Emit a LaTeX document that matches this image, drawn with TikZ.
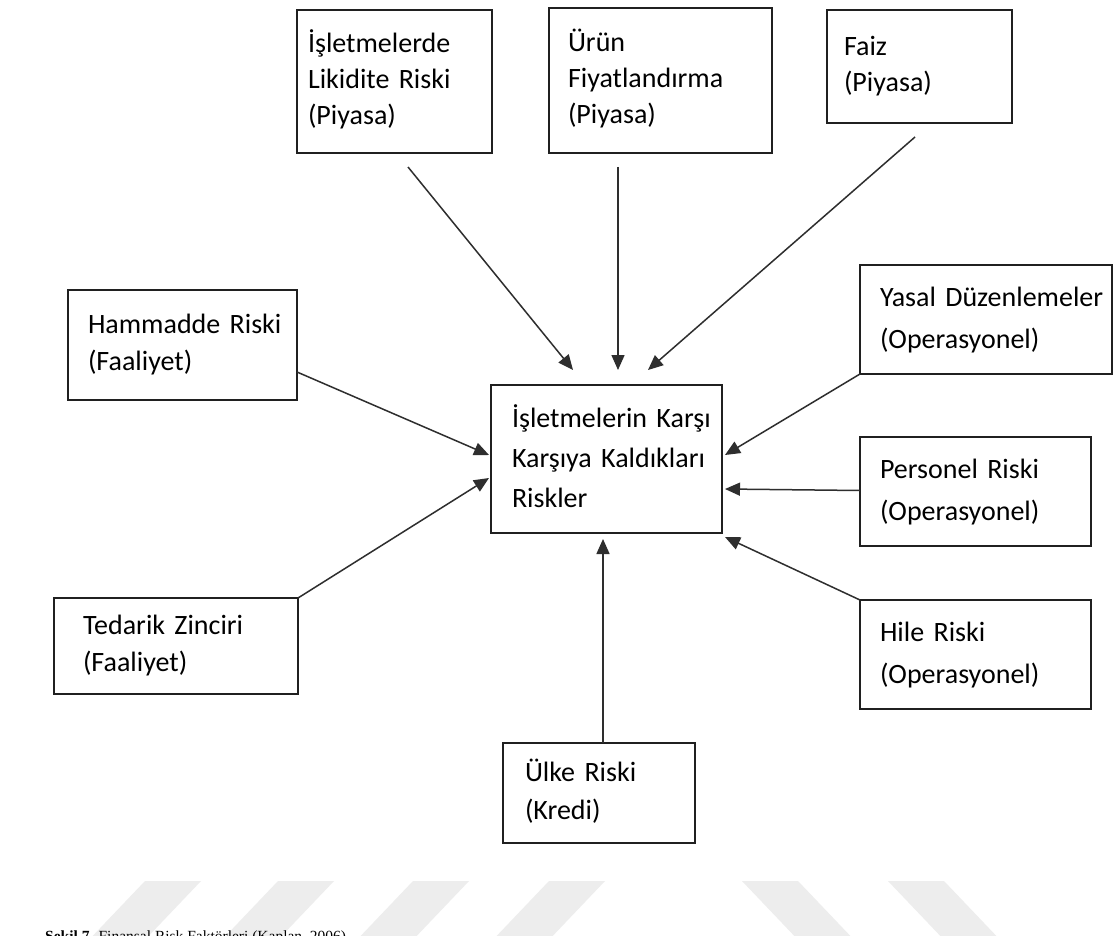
\documentclass[tikz,border=0pt]{standalone}
\usepackage{fontspec}
\setmainfont{Liberation Serif}
\newfontfamily\calibri[WordSpace=0.65]{Carlito}
\usetikzlibrary{arrows.meta,calc}

\definecolor{boxline}{HTML}{202020}
\definecolor{arrowline}{HTML}{2E2E2E}
\definecolor{stripe}{HTML}{EDEDED}

% left-aligned lines with a fixed left indent
\newcommand{\padlines}[2]{\begin{tabular}{@{\hspace{#1pt}}l@{}}#2\end{tabular}}

\tikzset{
  riskbox/.style={draw=boxline, line width=1.7pt, anchor=north west, align=left,
    inner sep=0pt, outer sep=0pt, text=black},
  lsk/.style={font=\calibri\fontsize{28}{#1}\selectfont},
  lsk/.default=38,
  feed/.style={draw=arrowline, line width=1.5pt,
    -{Triangle[length=15pt,width=13pt]}},
  band/.style={fill=stripe, draw=none}
}

\begin{document}
\begin{tikzpicture}[x=1pt,y=-1pt]
  \clip (0,0) rectangle (1113,936);
  \fill[white] (0,0) rectangle (1113,936);

  % light diagonal bands along the lower edge
  \foreach \xt in {145,278,413,549}
    \fill[band] (\xt,881) -- (\xt+56,881) -- (\xt+56-60,944) -- (\xt-60,944) -- cycle;
  \foreach \xt in {742,888}
    \fill[band] (\xt,881) -- (\xt+56,881) -- (\xt+56+60,944) -- (\xt+60,944) -- cycle;

  % centre box
  \node[riskbox, lsk=40, text width=231pt, minimum height=148pt] (center) at (491,385)
    {\padlines{21}{İşletmelerin Karşı\\Karşıya Kaldıkları\\Riskler}};

  % market risks (top row)
  \node[riskbox, lsk=36, text width=195pt, minimum height=143pt] (lik) at (297,10)
    {\padlines{11}{İşletmelerde\\Likidite Riski\\(Piyasa)}};
  \node[riskbox, lsk=36, text width=223pt, minimum height=145pt] (urun) at (549,8)
    {\padlines{19}{Ürün\\Fiyatlandırma\\(Piyasa)}};
  \node[riskbox, lsk=36, text width=185pt, minimum height=113pt] (faiz) at (827,10)
    {\padlines{17}{Faiz\\(Piyasa)}};

  % activity risks (left)
  \node[riskbox, lsk=37, text width=229pt, minimum height=110pt] (ham) at (68,290)
    {\padlines{20}{Hammadde Riski\\(Faaliyet)}};
  \node[riskbox, lsk=37, text width=244pt, minimum height=96pt] (ted) at (54,598)
    {\padlines{29}{Tedarik Zinciri\\(Faaliyet)}};

  % operational risks (right)
  \node[riskbox, lsk=42, text width=252pt, minimum height=109pt] (yasal) at (860,265)
    {\padlines{20}{Yasal Düzenlemeler\\(Operasyonel)}};
  \node[riskbox, lsk=42, text width=231pt, minimum height=109pt] (pers) at (860,437)
    {\padlines{20}{Personel Riski\\(Operasyonel)}};
  \node[riskbox, lsk=42, text width=231pt, minimum height=109pt] (hile) at (860,600)
    {\padlines{20}{Hile Riski\\(Operasyonel)}};

  % credit risk (bottom)
  \node[riskbox, lsk=38, text width=192pt, minimum height=100pt] (ulke) at (503,743)
    {\padlines{22}{Ülke Riski\\(Kredi)}};

  % connectors into the centre box
  \draw[feed] ($(lik.south west)+(111,14)$)  -- ($(center.north west)+(82,-15)$);
  \draw[feed] ($(urun.south west)+(69,14)$)  -- ($(center.north west)+(127,-15)$);
  \draw[feed] ($(faiz.south west)+(88,14)$)  -- ($(center.north west)+(157,-15)$);
  \draw[feed] ($(ham.south east)+(0,-28)$)   -- ($(center.north west)+(-2,70)$);
  \draw[feed] (ted.north east)               -- ($(center.north west)+(-2,93)$);
  \draw[feed] (yasal.south west)             -- ($(center.north east)+(3,70)$);
  \draw[feed] ($(pers.west)+(0,-1)$)         -- ($(center.north east)+(3,104)$);
  \draw[feed] (hile.north west)              -- ($(center.south east)+(3,4)$);
  \draw[feed] ($(ulke.north west)+(100,0)$)  -- ($(center.south west)+(112,6)$);

  % figure caption, cut by the lower edge
  \node[anchor=base west, inner sep=0pt, font=\fontsize{15.5}{18}\selectfont] (caption) at (45,941.5)
    {\textbf{Şekil 7.} Finansal Risk Faktörleri (Kaplan, 2006)};
\end{tikzpicture}
\end{document}
